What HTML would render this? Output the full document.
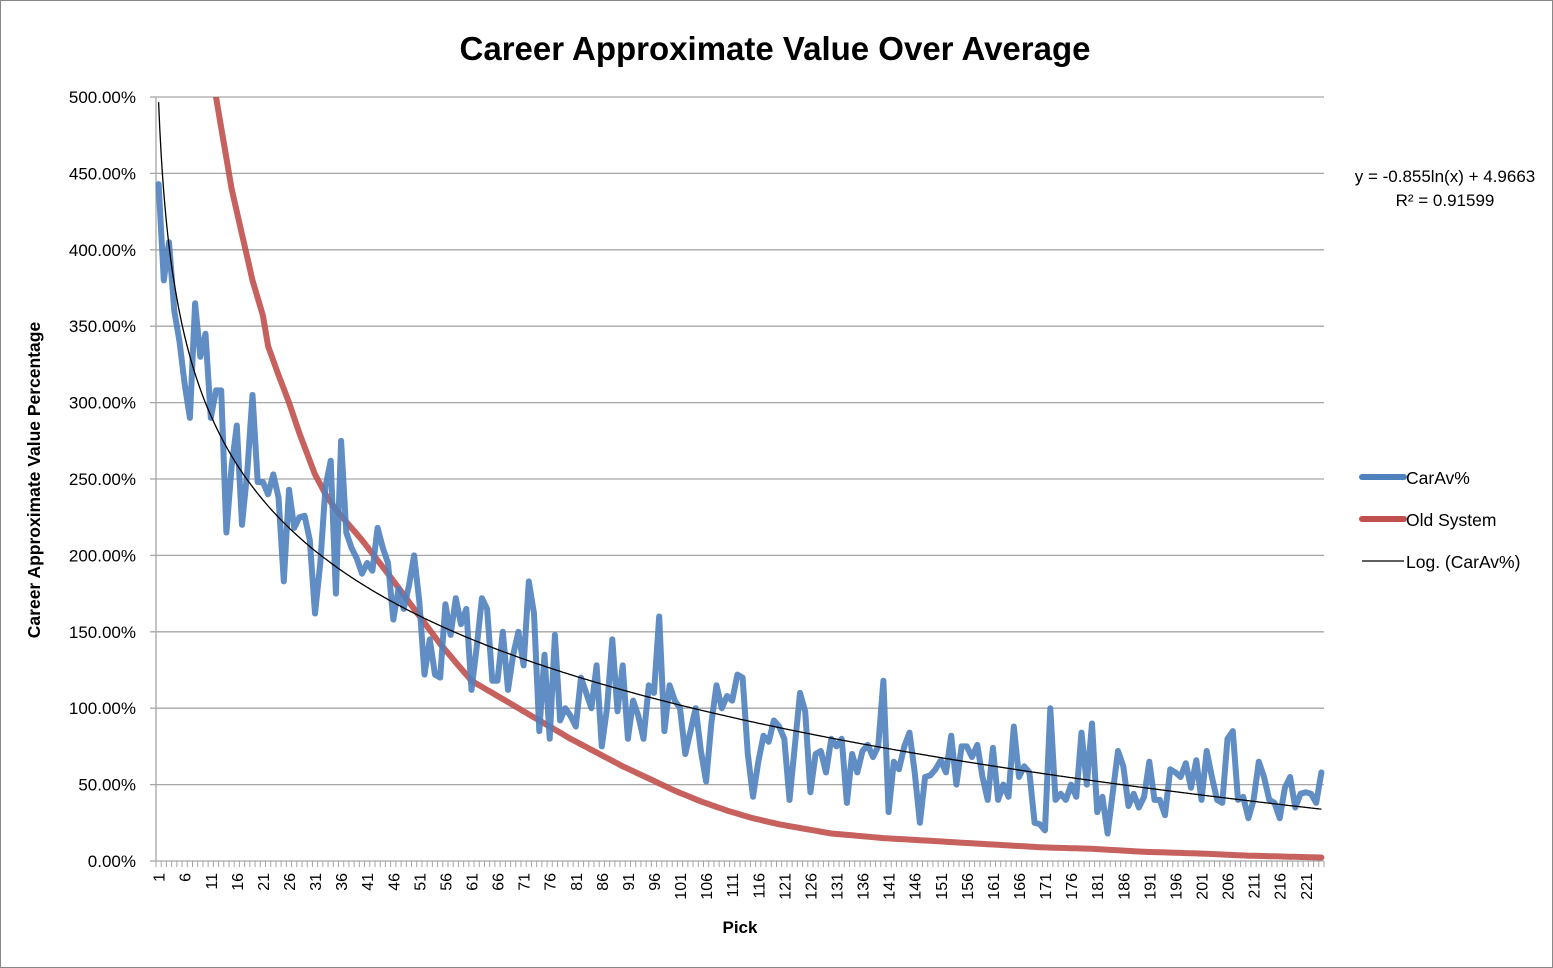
<!DOCTYPE html>
<html><head><meta charset="utf-8"><style>
html,body{margin:0;padding:0;background:#fff}
svg{display:block}
text{font-family:"Liberation Sans",Arial,sans-serif}
</style></head><body>
<svg id="s" width="1553" height="968" viewBox="0 0 1553 968" xmlns="http://www.w3.org/2000/svg">
<rect x="0.5" y="0.5" width="1552" height="967" fill="#fff" stroke="#888"/>
<text x="775" y="60" text-anchor="middle" font-size="33" font-weight="bold">Career Approximate Value Over Average</text>
<g id="grid"></g>
<g id="ylab" font-size="17" text-anchor="end"></g>
<g id="xlab" font-size="16"></g>
<text transform="translate(40,480) rotate(-90)" text-anchor="middle" font-size="17.5" font-weight="bold">Career Approximate Value Percentage</text>
<text x="740" y="933" text-anchor="middle" font-size="17" font-weight="bold">Pick</text>
<path id="red" fill="none" stroke="#c0504d" stroke-width="6" stroke-linejoin="round" stroke-linecap="round" opacity="0.9"/>
<path id="blue" fill="none" stroke="#4f81bd" stroke-width="6" stroke-linejoin="round" stroke-linecap="round" opacity="0.9"/>
<path id="trend" fill="none" stroke="#000" stroke-width="1.3"/>
<text x="1445" y="182" text-anchor="middle" font-size="17">y = -0.855ln(x) + 4.9663</text>
<text x="1445" y="206" text-anchor="middle" font-size="17">R² = 0.91599</text>
<line x1="1362" y1="477" x2="1404" y2="477" stroke="#4f81bd" stroke-width="6" stroke-linecap="round"/>
<text x="1406" y="484" font-size="17.5">CarAv%</text>
<line x1="1362" y1="519" x2="1404" y2="519" stroke="#c0504d" stroke-width="6" stroke-linecap="round"/>
<text x="1406" y="526" font-size="17.5">Old System</text>
<line x1="1362" y1="561" x2="1404" y2="561" stroke="#000" stroke-width="1.3"/>
<text x="1406" y="568" font-size="17.5">Log. (CarAv%)</text>
</svg>
<script>
var X0=156,X1=1324,N=224,Y0=861,K=152.8;
function px(n){return X0+(n-0.5)*(X1-X0)/N}
function py(v){return Y0-v*K}
var ns="http://www.w3.org/2000/svg";
function el(p,t,a,txt){var e=document.createElementNS(ns,t);for(var k in a)e.setAttribute(k,a[k]);if(txt!=null)e.textContent=txt;document.getElementById(p).appendChild(e);return e}
for(var i=0;i<=10;i++){var y=py(i*0.5);
 el('grid','line',{x1:X0,x2:X1,y1:y,y2:y,stroke:'#a6a6a6','stroke-width':1.3});
 el('grid','line',{x1:150,x2:X0,y1:y,y2:y,stroke:'#a6a6a6','stroke-width':1.3});
 el('ylab','text',{x:136,y:y+6},(i*50).toFixed(2)+'%');}
el('grid','line',{x1:X0,x2:X0,y1:97,y2:861,stroke:'#a6a6a6','stroke-width':1.3});
for(var n=0;n<=N;n++){var x=X0+n*(X1-X0)/N;el('grid','line',{x1:x,x2:x,y1:861,y2:867,stroke:'#a6a6a6','stroke-width':1});}
for(var n=1;n<=N;n+=5){var x=px(n)+6;el('xlab','text',{transform:'translate('+x+',873) rotate(-90)','text-anchor':'end'},String(n));}
var b=[443,380,405,360,340,312,290,365,330,345,290,308,308,215,258,285,220,255,305,248,248,240,253,238,183,243,218,225,226,210,162,195,245,262,175,275,215,205,198,188,195,190,218,205,195,158,178,165,180,200,170,122,145,122,120,168,148,172,155,165,112,140,172,165,118,118,150,112,135,150,128,183,162,85,135,80,148,92,100,95,88,120,110,100,128,75,100,145,98,128,80,105,95,80,115,110,160,85,115,105,100,70,85,100,72,52,90,115,100,108,105,122,120,70,42,65,82,78,92,88,80,40,75,110,98,45,70,72,58,80,75,80,38,70,58,72,76,68,75,118,32,65,60,75,84,58,25,55,56,60,66,58,82,50,75,75,68,76,55,40,74,40,50,42,88,55,62,58,25,24,20,100,40,44,40,50,42,84,50,90,32,42,18,45,72,62,36,44,35,42,65,40,40,30,60,58,55,64,48,66,40,72,55,40,38,80,85,40,42,28,40,65,55,40,38,28,48,55,35,44,45,44,38,58];
var d='';for(var i=0;i<b.length;i++)d+=(i?'L':'M')+px(i+1).toFixed(1)+' '+py(b[i]/100).toFixed(1);
document.getElementById('blue').setAttribute('d',d);
var rk=[[11,530],[12,500],[15,440],[17,410],[19,380],[21,357],[22,337],[24,318],[26,300],[28,280],[31,253],[33,240],[35,230],[40,210],[45,188],[50,165],[55,142],[61,118],[65,110],[70,100],[75,90],[80,80],[85,71],[90,62],[95,54],[100,46],[105,39],[110,33],[115,28],[120,24],[125,21],[130,18],[140,15],[150,13],[160,11],[170,9],[180,8],[190,6],[200,5],[210,3.5],[224,2.3]];
d='';var first=true;
for(var n=11;n<=N;n++){var v;for(var j=0;j<rk.length-1;j++){if(n>=rk[j][0]&&n<=rk[j+1][0]){var t=(n-rk[j][0])/(rk[j+1][0]-rk[j][0]);v=rk[j][1]+t*(rk[j+1][1]-rk[j][1]);break;}}
 d+=(first?'M':'L')+px(n).toFixed(1)+' '+py(v/100).toFixed(1);first=false;}
document.getElementById('red').setAttribute('d',d);
var cp=document.createElementNS(ns,'clipPath');cp.setAttribute('id','c');var r=document.createElementNS(ns,'rect');r.setAttribute('x',0);r.setAttribute('y',97);r.setAttribute('width',1553);r.setAttribute('height',800);cp.appendChild(r);document.getElementById('s').appendChild(cp);
document.getElementById('red').setAttribute('clip-path','url(#c)');
d='';for(var x=1;x<=N;x+=0.25){d+=(x==1?'M':'L')+px(x).toFixed(1)+' '+py(-0.855*Math.log(x)+4.9663).toFixed(1);}
document.getElementById('trend').setAttribute('d',d);
</script>
</body></html>
